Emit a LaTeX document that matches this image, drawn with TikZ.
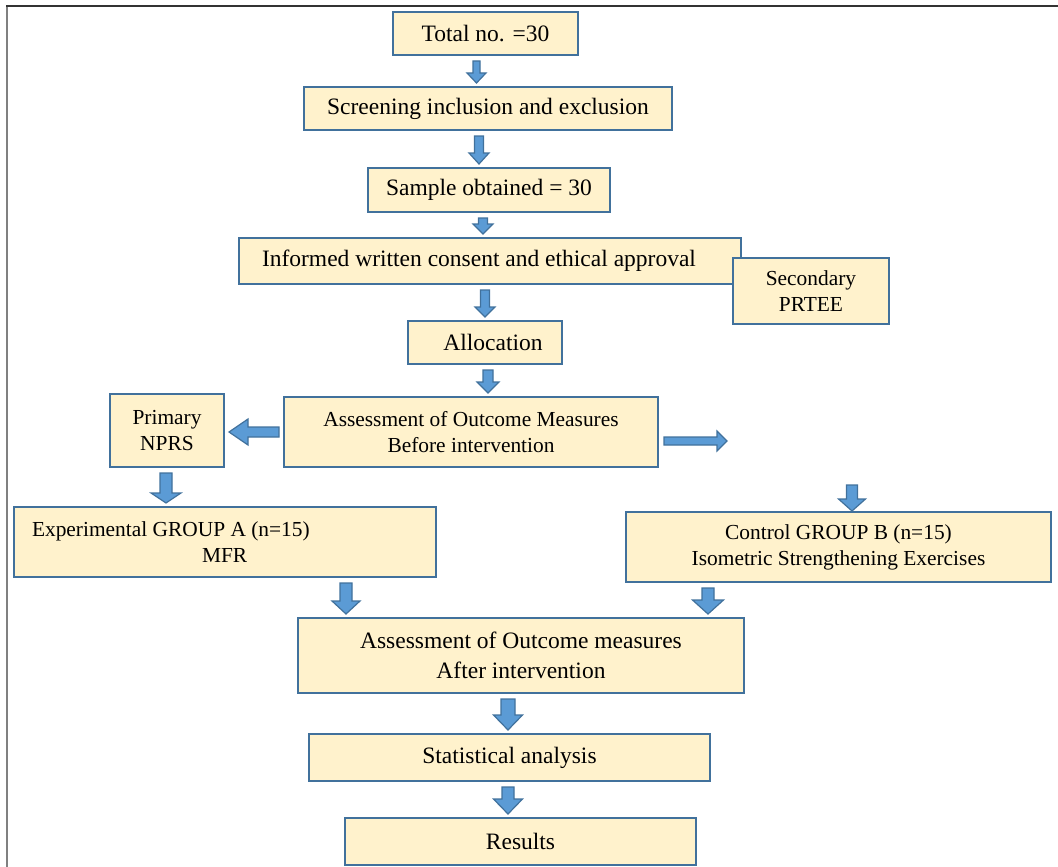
\documentclass[tikz,border=0pt]{standalone}
\usepackage{fontspec}
\setmainfont{Liberation Serif}
\usetikzlibrary{calc}
\definecolor{boxfill}{HTML}{FFF2CC}
\definecolor{boxline}{HTML}{41719C}
\definecolor{arrowfill}{HTML}{5B9BD5}
\definecolor{arrowline}{HTML}{41719C}
\definecolor{framedark}{HTML}{333333}
\definecolor{framegray}{HTML}{808080}
\newcommand{\boxfont}{\fontsize{23.5}{30}\selectfont}
\newcommand{\boxfontsm}{\fontsize{21.4}{26}\selectfont}
% block arrow: tail, tip, half shaft, half head, head length
\newcommand{\flowarrow}[5]{%
  \coordinate (fh) at ($(#2)!#5!(#1)$);
  \draw[barrow] ($(#1)!#3!90:(#2)$) -- ($(fh)!#3!90:(#2)$) -- ($(fh)!#4!90:(#2)$) -- (#2)
    -- ($(fh)!#4!-90:(#2)$) -- ($(fh)!#3!-90:(#2)$) -- ($(#1)!#3!-90:(#2)$) -- cycle;}
% downward block arrow at x between two nodes
\newcommand{\flowdown}[6]{%
  \coordinate (ft) at ($(#1,0 |- #2.south)+(0,-5pt)$);
  \coordinate (fp) at ($(#1,0 |- #3.north)+(0,3pt)$);
  \flowarrow{ft}{fp}{#4}{#5}{#6}}

\begin{document}
\begin{tikzpicture}[x=1pt,y=-1pt,
  box/.style={draw=boxline,fill=boxfill,line width=2pt,inner sep=0pt,align=center,font=\boxfont},
  smallbox/.style={box,font=\boxfontsm},
  barrow/.style={draw=arrowline,fill=arrowfill,line width=1.2pt,line join=miter}]
\useasboundingbox (0,0) rectangle (1058,867);
\draw[line width=2pt,color=framedark] (6,6) -- (1058,6);
\draw[line width=2pt,color=framegray] (6.5,7) -- (6.5,867);

\node[box,minimum width=185pt,minimum height=43pt] (tot) at (485.5,33.5) {Total no. =30};
\node[box,minimum width=368pt,minimum height=43pt] (scr) at (488,108.5) {Screening inclusion and exclusion};
\node[box,minimum width=242pt,minimum height=44pt] (smp) at (489,190) {Sample obtained = 30};
\node[box,align=flush left,text width=456pt,inner xsep=23pt,minimum height=46pt] (cons) at (490,261) {Informed written consent and ethical approval};
\node[smallbox,minimum width=156pt,minimum height=66pt] (sec) at (811,291) {Secondary\\PRTEE};
\node[box,minimum width=154pt,minimum height=43pt] (alloc) at (485,342.5) {\hspace*{16pt}Allocation};
\node[smallbox,minimum width=374pt,minimum height=70pt] (pre) at (471,432) {Assessment of Outcome Measures\\Before intervention};
\node[smallbox,minimum width=114pt,minimum height=73pt] (prim) at (167,430.5) {Primary\\NPRS};
\node[smallbox,align=flush left,text width=386pt,inner xsep=18pt,minimum height=70pt] (grpa) at (225,542) {Experimental GROUP A (n=15)\\\hspace*{170pt}MFR};
\node[smallbox,minimum width=425pt,minimum height=70pt] (grpb) at (838.5,547) {Control GROUP B (n=15)\\Isometric Strengthening Exercises};
\node[box,minimum width=446pt,minimum height=75pt] (post) at (521,655.5) {Assessment of Outcome measures\\After intervention};
\node[box,minimum width=401pt,minimum height=47pt] (stat) at (509.5,757.5) {Statistical analysis};
\node[box,minimum width=351pt,minimum height=47pt] (res) at (520.5,841.5) {Results};

\flowdown{476.5}{tot}{scr}{3.5pt}{9.5pt}{10pt}
\flowdown{479}{scr}{smp}{4.5pt}{10pt}{11pt}
\flowdown{483}{smp}{cons}{4.5pt}{10pt}{10pt}
\flowdown{485}{cons}{alloc}{4.5pt}{10pt}{10pt}
\flowdown{488}{alloc}{pre}{5pt}{11pt}{11pt}
\flowdown{166}{prim}{grpa}{6pt}{15pt}{10pt}
\flowdown{346}{grpa}{post}{6pt}{14pt}{13pt}
\flowdown{708}{grpb}{post}{6pt}{15.5pt}{14pt}
\flowdown{508}{post}{stat}{7pt}{14.5pt}{15pt}
\flowdown{508}{stat}{res}{6pt}{14.5pt}{15pt}

\coordinate (ft) at ($(pre.west)+(-4pt,0)$);
\coordinate (fp) at ($(ft -| prim.east)+(4pt,0)$);
\flowarrow{ft}{fp}{5pt}{13pt}{19pt}
\coordinate (side) at (727,441);
\coordinate (ft) at ($(pre.east |- side)+(5pt,0)$);
\flowarrow{ft}{side}{4pt}{10pt}{10pt}
\coordinate (drop) at (852,485);
\coordinate (fp) at (drop |- grpb.north);
\flowarrow{drop}{fp}{5.5pt}{13.5pt}{12pt}
\end{tikzpicture}
\end{document}
